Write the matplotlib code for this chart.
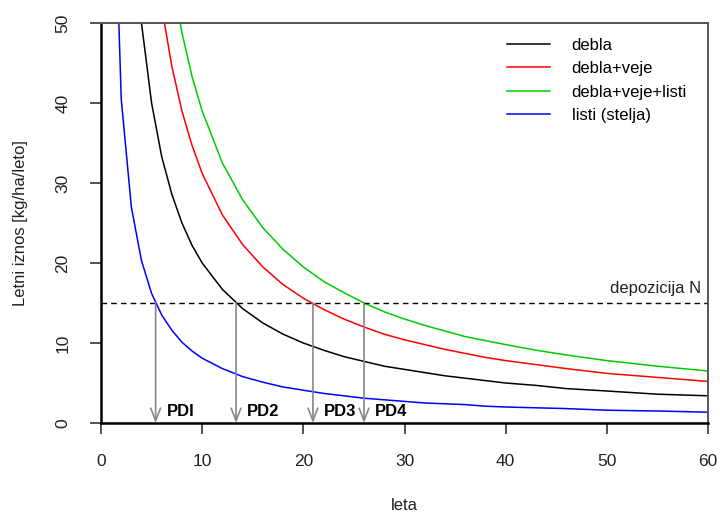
import matplotlib
matplotlib.use("Agg")
import matplotlib.pyplot as plt

plt.rcParams['font.family'] = ['Liberation Sans', 'DejaVu Sans']

# years (x) and yearly amounts
leta = [1, 2, 3, 4, 5, 6, 7, 8, 9, 10, 12, 14, 16, 18, 20, 22, 24, 26, 28, 30,
        32, 34, 36, 38, 40, 43, 46, 50, 55, 60]
debla = [200, 100, 66.7, 50, 40, 33.3, 28.6, 25, 22.2, 20, 16.7, 14.3, 12.5, 11.1, 10,
         9.1, 8.3, 7.7, 7.1, 6.7, 6.3, 5.9, 5.6, 5.3, 5.0, 4.7, 4.3, 4.0, 3.6, 3.4]
debla_veje = [312, 156, 104, 78, 62.4, 52, 44.6, 39, 34.7, 31.2, 26, 22.3, 19.5, 17.3, 15.6,
              14.2, 13, 12, 11.1, 10.4, 9.8, 9.2, 8.7, 8.2, 7.8, 7.3, 6.8, 6.2, 5.7, 5.2]
debla_veje_listi = [390, 195, 130, 97.5, 78, 65, 55.7, 48.8, 43.3, 39, 32.5, 27.9, 24.4, 21.7,
                    19.5, 17.7, 16.3, 15, 13.9, 13, 12.2, 11.5, 10.8, 10.3, 9.8, 9.1, 8.5,
                    7.8, 7.1, 6.5]
listi = [81, 40.5, 27, 20.3, 16.2, 13.5, 11.6, 10.1, 9, 8.1, 6.8, 5.8, 5.1, 4.5, 4.1, 3.7,
         3.4, 3.1, 2.9, 2.7, 2.5, 2.4, 2.3, 2.1, 2.0, 1.9, 1.8, 1.6, 1.5, 1.35]

depozicija = 15
pd_x = [5.4, 13.35, 20.95, 26.0]
pd_labels = ["PDI", "PD2", "PD3", "PD4"]

fig = plt.figure(figsize=(7.2, 5.17), dpi=100)
ax = fig.add_axes([101 / 720, 1 - 423 / 517, 607 / 720, 400 / 517])

ax.plot(leta, debla, color='black', lw=1.1, label='debla')
ax.plot(leta, debla_veje, color='#ff0000', lw=1.1, label='debla+veje')
ax.plot(leta, debla_veje_listi, color='#00cc00', lw=1.1, label='debla+veje+listi')
ax.plot(leta, listi, color='#0000ff', lw=1.1, label='listi (stelja)')

ax.axhline(depozicija, color='black', lw=1, ls=(0, (4, 3)))
ax.text(59.3, depozicija + 0.9, "depozicija N", ha='right', va='bottom', fontsize=12,
        color='#222222')

# arrows from deposition line down to x axis
for x, lab in zip(pd_x, pd_labels):
    ax.annotate("", xy=(x, 0), xytext=(x, depozicija),
                arrowprops=dict(arrowstyle='->,head_length=0.9,head_width=0.35',
                                color='#888888', lw=1.2, shrinkA=0, shrinkB=0))
    ax.text(x + 1.1, 1.4, lab, fontsize=12, fontweight='bold', va='center', ha='left')

ax.set_xlim(0, 60)
ax.set_ylim(0, 50)
ax.set_xticks(range(0, 61, 10))
ax.set_yticks(range(0, 51, 10))
ax.tick_params(direction='out', length=8, width=1.3, color='#444444', labelsize=12.5,
               labelcolor='#222222', pad=14)
for t in ax.get_yticklabels():
    t.set_rotation(90)
    t.set_va('center')

for s in ['left', 'bottom']:
    ax.spines[s].set_color('black')
    ax.spines[s].set_linewidth(1.8)
for s in ['top', 'right']:
    ax.spines[s].set_color('#555555')
    ax.spines[s].set_linewidth(1.4)

ax.set_xlabel("leta", fontsize=12, color='#222222', labelpad=21)
ax.set_ylabel("Letni iznos [kg/ha/leto]", fontsize=12, color='#222222', labelpad=20)

ax.legend(loc='upper right', frameon=False, fontsize=12, handlelength=2.6,
          handletextpad=1.3, labelspacing=0.5, bbox_to_anchor=(0.99, 1.0))

fig.savefig("out.png", dpi=100)
